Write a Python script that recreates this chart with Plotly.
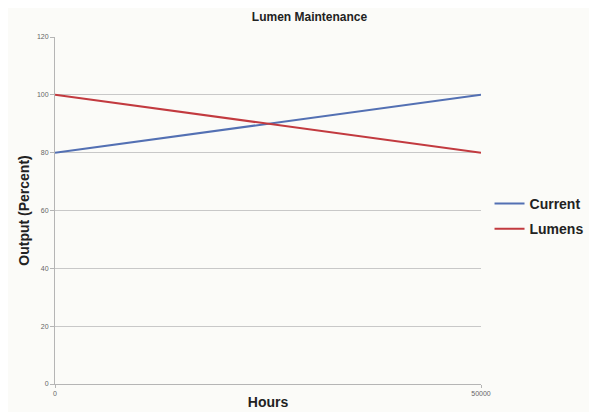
import plotly.graph_objects as go

hours = [0, 50000]
current = [80, 100]
lumens = [100, 80]
y_ticks = [0, 20, 40, 60, 80, 100, 120]
x_ticks = [0, 50000]

fig = go.Figure()
fig.add_trace(go.Scatter(x=hours, y=current, mode="lines", name="<b>Current</b>",
                         legendgroup="a", line=dict(color="#5370b3", width=2)))
fig.add_trace(go.Scatter(x=hours, y=lumens, mode="lines", name="<b>Lumens</b>",
                         legendgroup="b", line=dict(color="#c23a3f", width=2)))

fig.update_layout(
    width=597, height=412,
    paper_bgcolor="#fbfbf8", plot_bgcolor="#fbfbf8",
    margin=dict(l=47, r=124, t=29, b=36),
    title=dict(text="<b>Lumen Maintenance</b>", x=0.505, xanchor="center", y=0.978, yanchor="middle",
               font=dict(family="Liberation Sans, Arial", size=12, color="#222")),
    font=dict(family="Liberation Sans, Arial", color="#222"),
    legend=dict(x=1.02, y=0.483, xanchor="left", yanchor="middle",
                font=dict(size=14, color="#222", family="Liberation Sans, Arial"),
                bgcolor="rgba(0,0,0,0)", tracegroupgap=4, itemwidth=30),
    showlegend=True,
)
fig.update_xaxes(range=[0, 50000], tickvals=x_ticks, ticktext=[str(v) for v in x_ticks],
                 automargin=False,
                 showgrid=False, showline=True, linecolor="#b5b5b5", linewidth=1,
                 ticks="outside", ticklen=3, tickcolor="#b5b5b5",
                 tickfont=dict(size=7, color="#666"), zeroline=False,
                 title=dict(text="<b>Hours</b>", font=dict(size=14, color="#222"), standoff=0))
fig.update_yaxes(range=[0, 120], tickvals=y_ticks, showgrid=True, gridcolor="#c8c8c8", gridwidth=1,
                 automargin=False,
                 showline=True, linecolor="#b5b5b5", linewidth=1,
                 ticks="outside", ticklen=4, tickcolor="#b5b5b5",
                 tickfont=dict(size=7, color="#666"), zeroline=False,
                 title=dict(text="<b>Output (Percent)</b>", font=dict(size=14, color="#222"), standoff=4))

fig.write_html("out.html")
